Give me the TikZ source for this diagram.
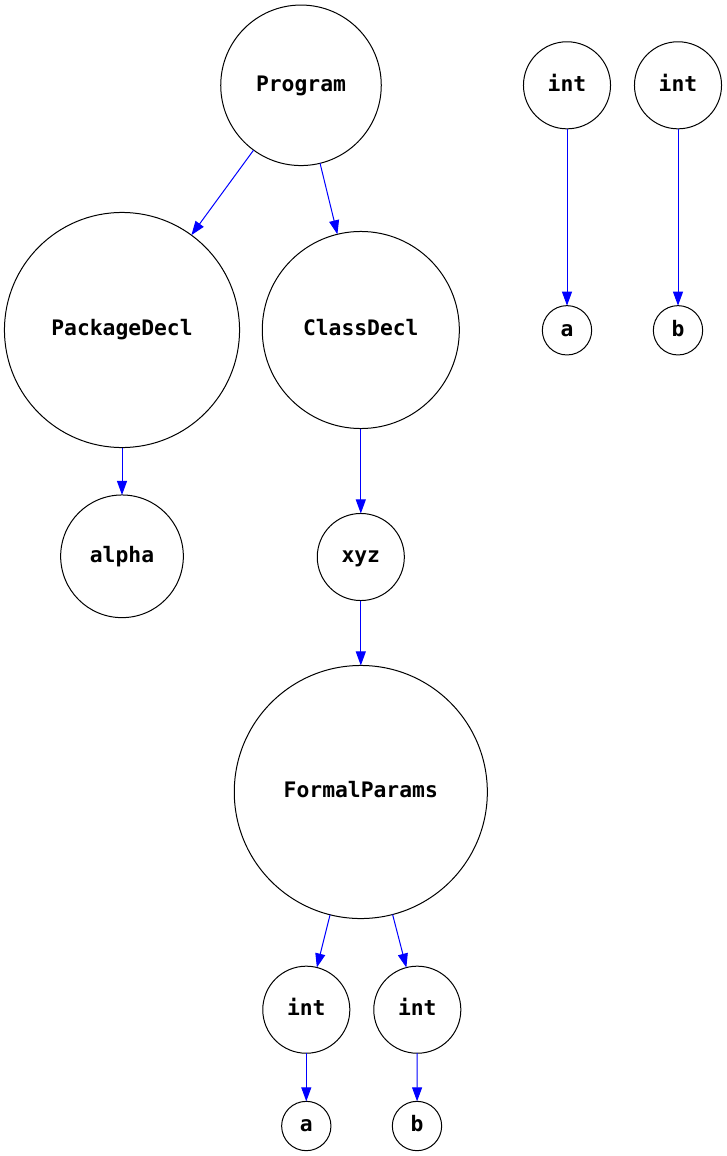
\documentclass[tikz,border=0pt]{standalone}
\usepackage{fontspec}
\setmonofont{DejaVu Sans Mono}
\usetikzlibrary{arrows.meta}
\begin{document}
\begin{tikzpicture}[x=0.75pt,y=-0.75pt,
    >={Triangle[length=10.5pt,width=7.5pt]},
    tnode/.style={circle,draw,line width=0.75pt,inner sep=0pt,outer sep=0pt,
      minimum size=#1,text height=11.6pt,text depth=3pt,
      font=\fontsize{16pt}{19pt}\selectfont\ttfamily\bfseries},
    tedge/.style={->,blue,line width=0.75pt}]
    \useasboundingbox (0,0) rectangle (727,1156);
    % main tree
    \node[tnode=120.4pt] (program) at (301,85.3) {Program};
    \node[tnode=176.3pt] (pkg) at (122,330) {PackageDecl};
    \node[tnode=147.8pt] (cls) at (360.8,330) {ClassDecl};
    \node[tnode=92pt] (alpha) at (122,556.3) {alpha};
    \node[tnode=65.3pt] (xyz) at (360.8,557) {xyz};
    \node[tnode=189.8pt] (params) at (360.8,792) {FormalParams};
    \node[tnode=65.3pt] (inta) at (306.3,1009.7) {int};
    \node[tnode=65.3pt] (intb) at (417.3,1009.7) {int};
    \node[tnode=37pt] (a) at (306.3,1126) {a};
    \node[tnode=37pt] (b) at (417,1126) {b};
    % loose pieces
    \node[tnode=65.3pt] (intc) at (567,85.3) {int};
    \node[tnode=65.3pt] (intd) at (678,85.3) {int};
    \node[tnode=37pt] (a2) at (567,330.3) {a};
    \node[tnode=37pt] (b2) at (678,330.3) {b};
    \draw[tedge] (program) -- (pkg);
    \draw[tedge] (program) -- (cls);
    \draw[tedge] (pkg) -- (alpha);
    \draw[tedge] (cls) -- (xyz);
    \draw[tedge] (xyz) -- (params);
    \draw[tedge] (params) -- (inta);
    \draw[tedge] (params) -- (intb);
    \draw[tedge] (inta) -- (a);
    \draw[tedge] (intb) -- (b);
    \draw[tedge] (intc) -- (a2);
    \draw[tedge] (intd) -- (b2);
\end{tikzpicture}
\end{document}
